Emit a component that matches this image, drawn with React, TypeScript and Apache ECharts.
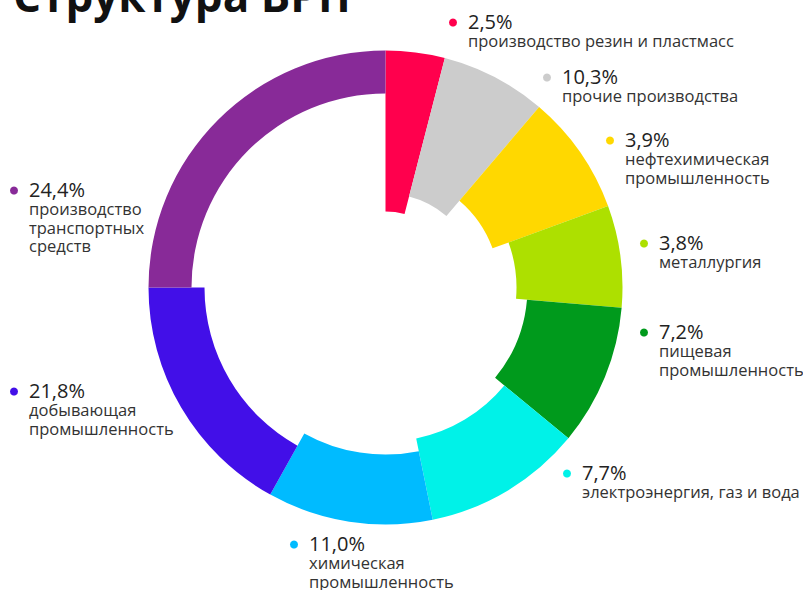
import React, { useEffect, useRef } from "react";
import * as echarts from "echarts";

// Categories, displayed shares (%) and slice geometry
const categories = [
  "производство резин и пластмасс",
  "прочие производства",
  "нефтехимическая\nпромышленность",
  "металлургия",
  "пищевая\nпромышленность",
  "электроэнергия, газ и вода",
  "химическая\nпромышленность",
  "добывающая\nпромышленность",
  "производство\nтранспортных\nсредств",
];
const shares = [2.5, 10.3, 3.9, 3.8, 7.2, 7.7, 11.0, 21.8, 24.4];
// angular span of each slice in degrees (illustration does not scale by share)
const sliceSpans = [14.5, 25.9, 29.5, 25.0, 34.6, 39.0, 40.6, 60.9, 90.0];
const innerRadii = [76, 94, 114, 131, 142, 154, 167, 181, 194];
const colors = [
  "#FF004D",
  "#CCCCCC",
  "#FFD800",
  "#ADE000",
  "#009A1C",
  "#00F2E8",
  "#00BBFF",
  "#420FE8",
  "#882A98",
];
// label anchor: text left x, baseline of percent line
const labelPos = [
  [468, 29],
  [562, 84],
  [625, 147],
  [659, 250],
  [659, 339],
  [582, 480],
  [309, 551],
  [29, 398],
  [29, 197],
];

const CENTER = [385.5, 287.5];
const OUTER = 237;

export default function App() {
  const ref = useRef<HTMLDivElement>(null);
  useEffect(() => {
    if (!ref.current) return;
    const chart = echarts.init(ref.current, null, { renderer: "svg" });

    const series = categories.map((_, i) => ({
      type: "pie",
      center: CENTER,
      radius: [innerRadii[i], OUTER],
      startAngle: 90,
      clockwise: true,
      silent: true,
      label: { show: false },
      labelLine: { show: false },
      emphasis: { disabled: true },
      itemStyle: { borderWidth: 0 },
      data: sliceSpans.map((v, j) => ({
        value: v,
        name: categories[j],
        itemStyle: { color: j === i ? colors[i] : "rgba(0,0,0,0)" },
      })),
    }));

    const fmt = (v: number) => v.toFixed(1).replace(".", ",") + "%";
    const graphics: any[] = [
      {
        type: "text",
        x: 13,
        y: -5,
        style: {
          text: "Структура ВРП",
          font: 'bold 44px "Open Sans"',
          fill: "#111",
          verticalAlign: "middle",
          align: "left",
        },
      },
    ];
    categories.forEach((name, i) => {
      const [x, b] = labelPos[i];
      graphics.push({
        type: "circle",
        shape: { cx: x - 15, cy: b - 6.5, r: 4 },
        style: { fill: colors[i] },
      });
      const text =
        "{p|" + fmt(shares[i]) + "}\n" +
        name
          .split("\n")
          .map((l) => "{n|" + l + "}")
          .join("\n");
      graphics.push({
        type: "text",
        x,
        y: b - 18.2,
        style: {
          text,
          verticalAlign: "top",
          align: "left",
          rich: {
            p: {
              fontFamily: "Open Sans",
              fontSize: 20,
              lineHeight: 20.6,
              fill: "#222",
            },
            n: {
              fontFamily: "Open Sans",
              fontSize: 16.5,
              lineHeight: 18.5,
              fill: "#333",
            },
          },
        },
      });
    });

    chart.setOption({
      animation: false,
      backgroundColor: "#fff",
      series,
      graphic: graphics,
    });
    return () => chart.dispose();
  }, []);
  return (
    <div
      ref={ref}
      style={{ position: "fixed", left: 0, top: 0, width: 803, height: 590 }}
    />
  );
}
